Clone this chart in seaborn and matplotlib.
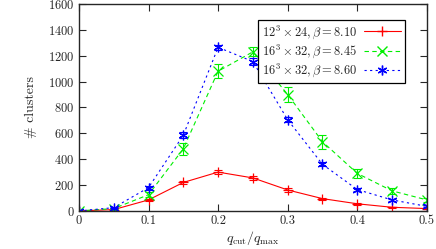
import matplotlib
matplotlib.use('Agg')
import matplotlib.pyplot as plt
from matplotlib.lines import Line2D
import seaborn as sns
import pandas as pd

q = [0, 0.05, 0.1, 0.15, 0.2, 0.25, 0.3, 0.35, 0.4, 0.45, 0.5]

red_y = [0, 10, 85, 220, 300, 255, 162, 95, 55, 28, 18]
red_err = [0, 3, 8, 15, 15, 15, 12, 8, 6, 4, 3]
green_y = [0, 18, 125, 480, 1080, 1230, 900, 535, 290, 155, 85]
green_err = [0, 5, 20, 45, 55, 35, 60, 55, 35, 25, 15]
blue_y = [0, 25, 180, 585, 1265, 1155, 705, 360, 165, 85, 35]
blue_err = [0, 5, 15, 25, 20, 30, 20, 15, 12, 10, 8]

labels = [r'$12^3\times 24,\beta=8.10$',
          r'$16^3\times 32,\beta=8.45$',
          r'$16^3\times 32,\beta=8.60$']
colors = ['#ff0000', '#00ee00', '#0000ff']
markers = ['+', 'x', (6, 2, 0)]
dashes = [(None, None), (4, 3), (2, 3)]
linestyles = ['-', (0, (4, 3)), (0, (2, 3))]

sns.set_style('ticks')
plt.rcParams['font.family'] = ['cmr10', 'DejaVu Serif']
plt.rcParams['mathtext.fontset'] = 'cm'
plt.rcParams['axes.formatter.use_mathtext'] = True
plt.rcParams['axes.unicode_minus'] = False

df = pd.concat([
    pd.DataFrame({'q': q, 'n': red_y, 'set': labels[0]}),
    pd.DataFrame({'q': q, 'n': green_y, 'set': labels[1]}),
    pd.DataFrame({'q': q, 'n': blue_y, 'set': labels[2]}),
])

fig = plt.figure(figsize=(4.36, 2.49), dpi=100)
ax = fig.add_axes([0.181, 0.153, 0.798, 0.831])

# lines through seaborn, markers and error bars on top
sns.lineplot(data=df, x='q', y='n', hue='set', style='set', palette=colors,
             dashes=dashes, linewidth=0.8, legend=False, ax=ax)

for ys, es, c, m in zip([red_y, green_y, blue_y], [red_err, green_err, blue_err], colors, markers):
    ax.errorbar(q, ys, yerr=es, fmt='none', ecolor=c, elinewidth=0.8, capsize=3, capthick=0.8)
    ax.plot(q, ys, linestyle='none', marker=m, color=c, markersize=7, markeredgewidth=0.9)

ax.set_xlim(0, 0.5)
ax.set_ylim(0, 1600)
ax.set_xticks([0, 0.1, 0.2, 0.3, 0.4, 0.5])
ax.set_xticklabels(['0', '0.1', '0.2', '0.3', '0.4', '0.5'])
ax.set_yticks(range(0, 1601, 200))
ax.tick_params(direction='in', top=True, right=True, labelsize=9, length=5, width=0.8, pad=3)
for s in ax.spines.values():
    s.set_linewidth(1.0)
ax.set_xlabel(r'$q_{\rm cut}/q_{\max}$', fontsize=10, labelpad=1)
ax.set_ylabel('# clusters', fontsize=10, labelpad=8)

handles = [Line2D([], [], color=c, marker=m, linestyle=ls, linewidth=0.8, markersize=7)
           for c, m, ls in zip(colors, markers, linestyles)]
leg = ax.legend(handles, labels, loc='upper right', markerfirst=False, fontsize=9,
                frameon=True, fancybox=False, framealpha=1, edgecolor='black',
                borderpad=0.3, labelspacing=0.15, handlelength=3, handletextpad=0.5,
                bbox_to_anchor=(0.955, 0.955))
leg.get_frame().set_linewidth(0.9)

fig.savefig('out.png', dpi=100)
